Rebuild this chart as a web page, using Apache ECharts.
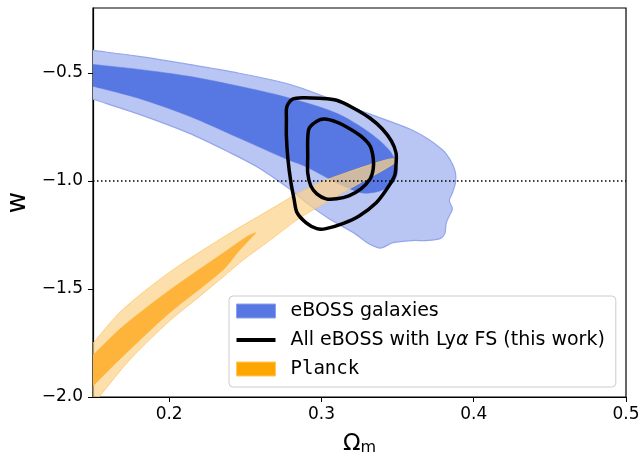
<!DOCTYPE html>
<html>
<head>
<meta charset="utf-8">
<script src="https://cdn.jsdelivr.net/npm/echarts@6/dist/echarts.min.js"></script>
<style>html,body{margin:0;padding:0;background:#fff}#c{width:642px;height:458px}</style>
</head>
<body>
<div id="c"></div>
<script>
// ---- axis ranges and ticks ----
const xRange = [0.15, 0.5];
const yRange = [-2.0, -0.2];
const xTicks = [0.2, 0.3, 0.4, 0.5];
const xTickLabels = ['0.2', '0.3', '0.4', '0.5'];
const yTicks = [-2.0, -1.5, -1.0, -0.5];
const yTickLabels = ['\u22122.0', '\u22121.5', '\u22121.0', '\u22120.5'];
const wLCDM = -1.0;

// ---- contour polygons, [Omega_m, w] ----
const eBOSS_outer = [
  [0.14,-0.387],[0.150,-0.396],[0.180,-0.424],[0.213,-0.461],[0.246,-0.502],[0.279,-0.553],
  [0.305,-0.618],[0.332,-0.691],[0.358,-0.760],[0.369,-0.802],[0.378,-0.848],[0.382,-0.876],
  [0.386,-0.922],[0.388,-0.963],[0.388,-1.009],[0.386,-1.055],[0.384,-1.092],[0.386,-1.129],
  [0.384,-1.161],[0.382,-1.194],[0.381,-1.244],[0.378,-1.267],[0.369,-1.276],[0.360,-1.276],
  [0.347,-1.286],[0.340,-1.309],[0.337,-1.309],[0.330,-1.286],[0.322,-1.244],[0.305,-1.175],
  [0.292,-1.111],[0.279,-1.037],[0.259,-0.940],[0.239,-0.866],[0.213,-0.779],[0.180,-0.691],
  [0.150,-0.622],[0.14,-0.599]
];
const eBOSS_inner = [
  [0.14,-0.453],[0.150,-0.461],[0.180,-0.484],[0.213,-0.516],[0.246,-0.562],[0.277,-0.613],
  [0.310,-0.687],[0.332,-0.779],[0.345,-0.862],[0.350,-0.945],[0.348,-1.000],[0.343,-1.032],
  [0.336,-1.051],[0.326,-1.055],[0.309,-1.005],[0.290,-0.935],[0.277,-0.899],[0.246,-0.802],
  [0.213,-0.700],[0.180,-0.618],[0.150,-0.562],[0.14,-0.544]
];
const planck_outer = [
  [0.14,-1.829],[0.150,-1.751],[0.169,-1.599],[0.200,-1.424],[0.235,-1.263],[0.266,-1.134],
  [0.284,-1.060],[0.300,-1.005],[0.316,-0.963],[0.338,-0.912],[0.347,-0.897],[0.349,-0.910],
  [0.343,-0.940],[0.316,-1.046],[0.299,-1.115],[0.284,-1.180],[0.266,-1.276],[0.249,-1.364],
  [0.235,-1.447],[0.220,-1.535],[0.200,-1.650],[0.174,-1.829],[0.154,-2.000],[0.148,-2.051],
  [0.14,-2.051]
];
const planck_inner = [
  [0.14,-1.871],[0.150,-1.806],[0.169,-1.677],[0.200,-1.507],[0.235,-1.336],[0.251,-1.258],
  [0.257,-1.240],[0.254,-1.263],[0.246,-1.323],[0.235,-1.415],[0.200,-1.613],[0.169,-1.816],
  [0.150,-1.949],[0.14,-2.018]
];
const lya_outer = [
  [0.278,-0.645],[0.281,-0.622],[0.2875,-0.615],[0.299,-0.618],[0.310,-0.627],[0.320,-0.659],
  [0.332,-0.710],[0.340,-0.760],[0.346,-0.816],[0.349,-0.871],[0.349,-0.922],[0.348,-0.977],
  [0.343,-1.037],[0.336,-1.101],[0.325,-1.161],[0.314,-1.198],[0.303,-1.221],[0.297,-1.221],
  [0.290,-1.194],[0.284,-1.147],[0.282,-1.083],[0.280,-1.009],[0.278,-0.899],[0.277,-0.793],
  [0.277,-0.714],[0.277,-0.668]
];
const lya_inner = [
  [0.291,-0.806],[0.292,-0.756],[0.297,-0.724],[0.302,-0.714],[0.310,-0.728],[0.318,-0.756],
  [0.326,-0.793],[0.332,-0.839],[0.334,-0.894],[0.334,-0.945],[0.332,-0.991],[0.326,-1.037],
  [0.318,-1.069],[0.310,-1.083],[0.303,-1.083],[0.297,-1.060],[0.293,-1.023],[0.291,-0.963],
  [0.291,-0.885]
];

const names = ['eBOSS galaxies', 'All eBOSS with Ly\u03b1 FS (this work)', 'Planck'];
const FONT = 'DejaVu Sans';

function polySeries(name, polys, styles, smooth, z) {
  return {
    type: 'custom', name: name, z: z, clip: true, silent: true,
    data: polys.map((p, i) => i),
    renderItem: function (params, api) {
      const pts = polys[params.dataIndex].map(p => api.coord(p));
      return { type: 'polygon', shape: { points: pts, smooth: smooth }, style: styles[params.dataIndex] };
    }
  };
}

const chart = echarts.init(document.getElementById('c'), null, { renderer: 'canvas' });
chart.setOption({
  animation: false,
  backgroundColor: '#fff',
  grid: { left: 93, right: 16, top: 8, bottom: 61, outerBoundsMode: 'none', containLabel: false,
    show: true, borderColor: '#000', borderWidth: 1.2, backgroundColor: 'transparent' },
  xAxis: {
    type: 'value', min: xRange[0], max: xRange[1],
    name: '{o|\u03a9}{s|m}', nameLocation: 'middle', nameGap: 33,
    nameTextStyle: { rich: {
      o: { fontFamily: FONT, fontSize: 23, lineHeight: 26, verticalAlign: 'bottom', color: '#000' },
      s: { fontFamily: FONT, fontSize: 16, lineHeight: 12, verticalAlign: 'bottom', color: '#000' }
    } },
    axisLine: { show: true, lineStyle: { color: '#000', width: 1.2 } },
    axisTick: { show: true, inside: false, length: 5, customValues: xTicks, lineStyle: { color: '#000', width: 1 } },
    axisLabel: { show: true, customValues: xTicks, margin: 9, color: '#000', fontFamily: FONT, fontSize: 17,
      formatter: v => { const i = xTicks.findIndex(t => Math.abs(t - v) < 1e-9); return i >= 0 ? xTickLabels[i] : ''; } },
    splitLine: { show: false }
  },
  yAxis: {
    type: 'value', min: yRange[0], max: yRange[1],
    name: 'w', nameLocation: 'middle', nameGap: 62, nameRotate: 90,
    nameTextStyle: { fontFamily: FONT, fontSize: 26, color: '#000' },
    axisLine: { show: true, lineStyle: { color: '#000', width: 1.2 } },
    axisTick: { show: true, inside: false, length: 5, customValues: yTicks, lineStyle: { color: '#000', width: 1 } },
    axisLabel: { show: true, customValues: yTicks, margin: 10, color: '#000', fontFamily: FONT, fontSize: 17,
      formatter: v => { const i = yTicks.findIndex(t => Math.abs(t - v) < 1e-9); return i >= 0 ? yTickLabels[i] : ''; } },
    splitLine: { show: false }
  },
  legend: {
    orient: 'vertical', left: 229, top: 296,
    padding: [5, 11, 8, 7], itemGap: 9, itemWidth: 39, itemHeight: 14,
    backgroundColor: 'rgba(255,255,255,0.85)', borderColor: '#cccccc', borderWidth: 1, borderRadius: 4,
    selectedMode: false,
    textStyle: { fontFamily: FONT, fontSize: 19, color: '#000', lineHeight: 20, padding: [0, 0, 0, 10],
      rich: {
        n: { fontFamily: FONT, fontSize: 19, color: '#000', lineHeight: 20 },
        i: { fontFamily: FONT, fontSize: 19, color: '#000', lineHeight: 20, fontStyle: 'italic' },
        m: { fontFamily: 'DejaVu Sans Mono', fontSize: 19, color: '#000', lineHeight: 20 }
      } },
    formatter: function (name) {
      if (name === names[1]) return '{n|All eBOSS with Ly}{i|\u03b1}{n| FS (this work)}';
      if (name === names[2]) return '{m|Planck}';
      return '{n|' + name + '}';
    },
    data: [
      { name: names[0], icon: 'rect', itemStyle: { color: '#5778e2', borderColor: '#8ea2ec', borderWidth: 1 } },
      { name: names[1], icon: 'path://M0,0L40,0L40,4.2L0,4.2Z', itemStyle: { color: '#000', borderWidth: 0 } },
      { name: names[2], icon: 'rect', itemStyle: { color: '#ffa500', borderColor: '#ffc860', borderWidth: 1 } }
    ]
  },
  series: [
    polySeries(names[0], [eBOSS_outer, eBOSS_inner], [
      { fill: '#b9c5f2', stroke: '#93a6ec', lineWidth: 1.2 },
      { fill: '#5778e2', stroke: '#5778e2', lineWidth: 0.5 }
    ], 0.3, 1),
    polySeries(names[2], [planck_outer, planck_inner], [
      { fill: 'rgba(252,210,138,0.72)', stroke: 'rgba(253,200,110,0.8)', lineWidth: 1 },
      { fill: '#feb43a', stroke: '#feb43a', lineWidth: 0.5 }
    ], 0.3, 2),
    {
      type: 'line', name: 'wLCDM', z: 3, silent: true, symbol: 'none',
      data: [[xRange[0], wLCDM], [xRange[1], wLCDM]],
      lineStyle: { color: '#000', width: 1.5, type: [1.5, 2.5] }
    },
    polySeries(names[1], [lya_outer, lya_inner], [
      { fill: 'none', stroke: '#000', lineWidth: 3.5, lineJoin: 'round' },
      { fill: 'none', stroke: '#000', lineWidth: 3.5, lineJoin: 'round' }
    ], 0.3, 4)
  ]
});
</script>
</body>
</html>
